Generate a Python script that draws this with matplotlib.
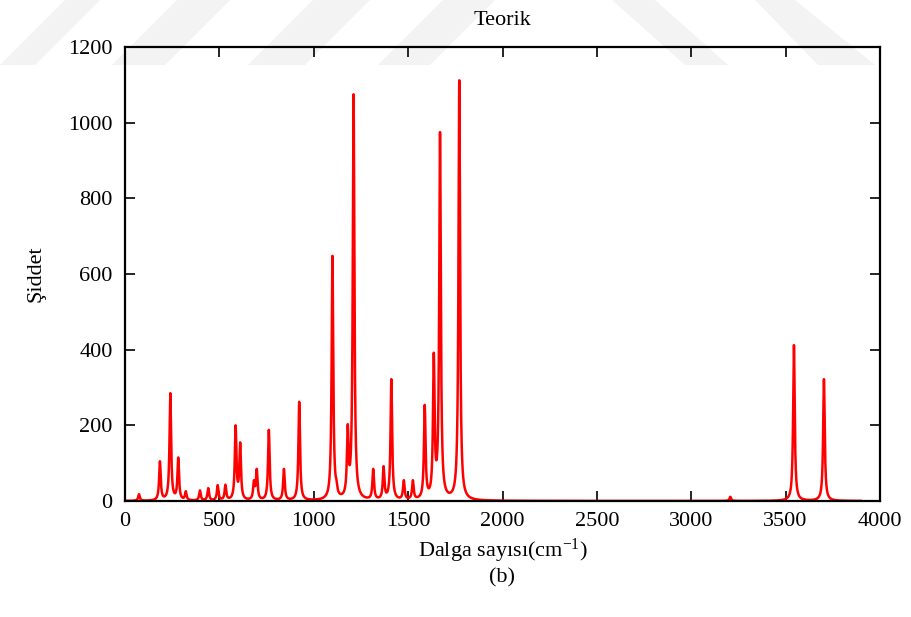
import numpy as np
import matplotlib
matplotlib.use("Agg")
import matplotlib.pyplot as plt
from matplotlib.patches import Polygon

# Computed vibrational bands: position (cm^-1) and peak intensity
band_positions = [74, 185, 240, 282, 322, 397, 441, 491, 532, 586, 610,
                  683, 698, 762, 842, 923, 1099, 1120, 1180, 1211, 1315,
                  1370, 1411, 1477, 1525, 1588, 1636, 1669, 1771, 3207,
                  3544, 3703]
band_heights = [18, 105, 285, 115, 26, 28, 34, 42, 43, 200, 155,
                55, 85, 188, 85, 262, 648, 57, 203, 1075, 85,
                92, 322, 55, 55, 254, 392, 975, 1112, 11,
                412, 322]

x_ticks = [0, 500, 1000, 1500, 2000, 2500, 3000, 3500, 4000]
y_ticks = [0, 200, 400, 600, 800, 1000, 1200]

title_text = "Teorik"
x_label = r"Dalga sayısı(cm$^{-1}$)"
y_label = "Şiddet"
panel_label = "(b)"

hwhm = 5.0  # Lorentzian half width at half maximum, cm^-1


def lorentz(d):
    return hwhm ** 2 / (d ** 2 + hwhm ** 2)


pos = np.array(band_positions, dtype=float)
hts = np.array(band_heights, dtype=float)
# amplitudes chosen so the summed envelope peaks at the listed intensities
overlap = lorentz(pos[:, None] - pos[None, :])
amps = np.linalg.solve(overlap, hts)

wn = np.arange(0.0, 3900.0, 0.5)
spectrum = (amps[None, :] * lorentz(wn[:, None] - pos[None, :])).sum(axis=1)

plt.rcParams["font.family"] = ["Liberation Serif", "DejaVu Serif"]
plt.rcParams["mathtext.fontset"] = "custom"
plt.rcParams["mathtext.rm"] = "Liberation Serif"
plt.rcParams["mathtext.it"] = "Liberation Serif:italic"

FS = 16
W, H = 911, 617
fig = plt.figure(figsize=(W / 100, H / 100), dpi=100)

# faint diagonal background bands across the top of the page
wm_color = "#f3f3f3"
bands = [
    [(0, 65), (35, 65), (100, 0), (65, 0)],
    [(112, 65), (165, 65), (230, 0), (177, 0)],
    [(248, 65), (305, 65), (370, 0), (313, 0)],
    [(378, 65), (430, 65), (495, 0), (443, 0)],
    [(612, 0), (655, 0), (728, 65), (685, 65)],
    [(755, 0), (795, 0), (875, 65), (818, 65)],
]
for b in bands:
    pts = [(px / W, 1 - py / H) for px, py in b]
    fig.patches.append(Polygon(pts, closed=True, transform=fig.transFigure,
                               facecolor=wm_color, edgecolor="none",
                               zorder=-10))

ax = fig.add_axes([125 / W, 1 - 501 / H, (880 - 125) / W, (501 - 47) / H])
ax.set_facecolor("none")
ax.plot(wn, spectrum, color="#ff0000", lw=1.8, zorder=3)

ax.set_xlim(0, 4000)
ax.set_ylim(0, 1200)
ax.set_xticks(x_ticks)
ax.set_yticks(y_ticks)
ax.tick_params(direction="in", length=7, width=1.2, labelsize=FS,
               top=True, right=True, color="black")
ax.tick_params(axis="x", pad=8)
ax.tick_params(axis="y", pad=9)
for s in ax.spines.values():
    s.set_linewidth(1.6)
    s.set_zorder(4)

ax.set_title(title_text, fontsize=FS, pad=16)
ax.set_xlabel(x_label, fontsize=FS, labelpad=4)
ax.set_ylabel(y_label, fontsize=FS, labelpad=16)
fig.text(502.5 / W, 1 - 578 / H, panel_label, fontsize=FS,
         ha="center", va="center")

fig.savefig("out.png", dpi=100)
